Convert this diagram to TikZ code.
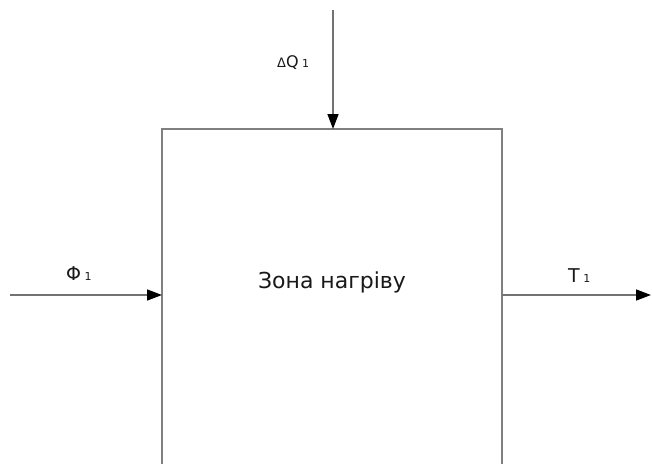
\documentclass[tikz,border=0pt]{standalone}
\usepackage{fontspec}
\setmainfont{DejaVu Sans}
\usetikzlibrary{arrows.meta}
\newcommand{\idx}[1]{\hspace{3.5pt}{\fontsize{11}{11}\selectfont #1}}
\begin{document}
\begin{tikzpicture}[x=1pt,y=-1pt,
  flow/.style={draw=black!55,line width=1.5pt,-{Triangle[length=15pt,width=11pt,color=black,fill=black]}},
  zone/.style={draw=black!50,line width=1.7pt},
  lbl/.style={font=\fontsize{19}{21}\selectfont,text=black!90,inner sep=0,anchor=base west}]
  \useasboundingbox (0,0) rectangle (652,463);
  % heating zone block, running past the lower edge
  \begin{scope}
    \clip (0,0) rectangle (652,463);
    \draw[zone] (162,129) rectangle (502,480);
  \end{scope}
  \coordinate (top) at (333,129);
  \coordinate (left) at (162,295);
  \coordinate (right) at (502,295);
  \coordinate (qin) at (333,10);
  \coordinate (fin) at (10,295);
  \coordinate (tout) at (651,295);
  \draw[flow] (qin) -- (top);
  \draw[flow] (fin) -- (left);
  \draw[flow] (right) -- (tout);
  \node[lbl,font=\fontsize{16}{18}\selectfont] (dq) at (277,67) {{\fontsize{13}{13}\selectfont Δ}Q\idx{1}};
  \node[lbl] (phi) at (66,280) {Φ\idx{1}};
  \node[lbl] (t) at (568,282) {T\idx{1}};
  \node[font=\fontsize{22}{25}\selectfont,text=black!90,inner sep=0,anchor=base] (name) at (332,288) {Зона нагріву};
\end{tikzpicture}
\end{document}
